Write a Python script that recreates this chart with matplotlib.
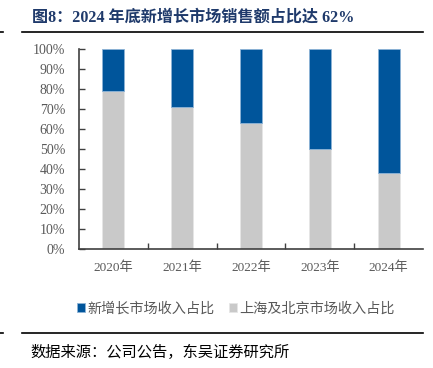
import matplotlib
matplotlib.use('Agg')
import matplotlib.pyplot as plt
from matplotlib.ticker import PercentFormatter
import numpy as np

# 数据
years = ['2020年', '2021年', '2022年', '2023年', '2024年']
new_share = [21, 29, 37, 50, 62]   # 新增长市场收入占比
bj_sh_share = [79, 71, 63, 50, 38]  # 上海及北京市场收入占比

blue = '#00559B'
gray = '#C9C9C9'
fonts = ['Liberation Serif', 'Noto Sans CJK SC']
plt.rcParams['font.family'] = fonts

fig = plt.figure(figsize=(4.33, 3.68), dpi=100)
ax = fig.add_axes([0.1824, 0.3226, 0.7945, 0.5442])

x = np.arange(len(years))
ax.bar(x, bj_sh_share, width=0.32, color=gray, edgecolor='#E6E6E6', linewidth=0.6,
       label='上海及北京市场收入占比')
ax.bar(x, new_share, bottom=bj_sh_share, width=0.32, color=blue, edgecolor='#8DB3D6',
       linewidth=0.6, label='新增长市场收入占比')

ax.set_xlim(-0.5, len(years) - 0.5)
ax.set_ylim(0, 100)
ax.set_yticks(np.arange(0, 101, 10))
ax.yaxis.set_major_formatter(PercentFormatter(decimals=0))
ax.set_xticks(x)
ax.set_xticklabels(years)
ax.set_xticks(np.arange(0.5, len(years) - 1, 1), minor=True)
ax.tick_params(axis='x', which='major', length=0, pad=9, labelsize=9.5, labelcolor='#595959')
ax.tick_params(axis='x', which='minor', direction='in', length=4, width=1, color='#404040')
ax.tick_params(axis='y', direction='in', length=4, width=1, color='#404040', pad=10,
               labelsize=10, labelcolor='#595959')
for s in ['top', 'right']:
    ax.spines[s].set_visible(False)
for s in ['left', 'bottom']:
    ax.spines[s].set_color('#404040')
    ax.spines[s].set_linewidth(1.2)

h, l = ax.get_legend_handles_labels()
fig.legend(h[::-1], l[::-1], loc='center left', bbox_to_anchor=(0.148, 0.16), ncol=2, frameon=False,
           fontsize=10.2, handlelength=0.6, handleheight=0.6, handletextpad=0.15, columnspacing=1.0,
           labelcolor='#595959')

# 标题和来源
fig.text(0.074, 0.951, '图8：2024 年底新增长市场销售额占比达 62%', fontsize=11.6, fontweight='bold',
         color='#1F3A6B', va='center', ha='left')
fig.add_artist(plt.Line2D([0.051, 0.977], [0.913, 0.913], color='black', linewidth=1.2))
fig.add_artist(plt.Line2D([0.0, 0.008], [0.913, 0.913], color='black', linewidth=1.2))
fig.add_artist(plt.Line2D([0.051, 0.977], [0.095, 0.095], color='black', linewidth=1.2))
fig.add_artist(plt.Line2D([0.0, 0.008], [0.095, 0.095], color='black', linewidth=1.2))
fig.text(0.07, 0.043, '数据来源：公司公告，东吴证券研究所', fontsize=11, color='black',
         va='center', ha='left')

fig.savefig('out.png', dpi=100)
